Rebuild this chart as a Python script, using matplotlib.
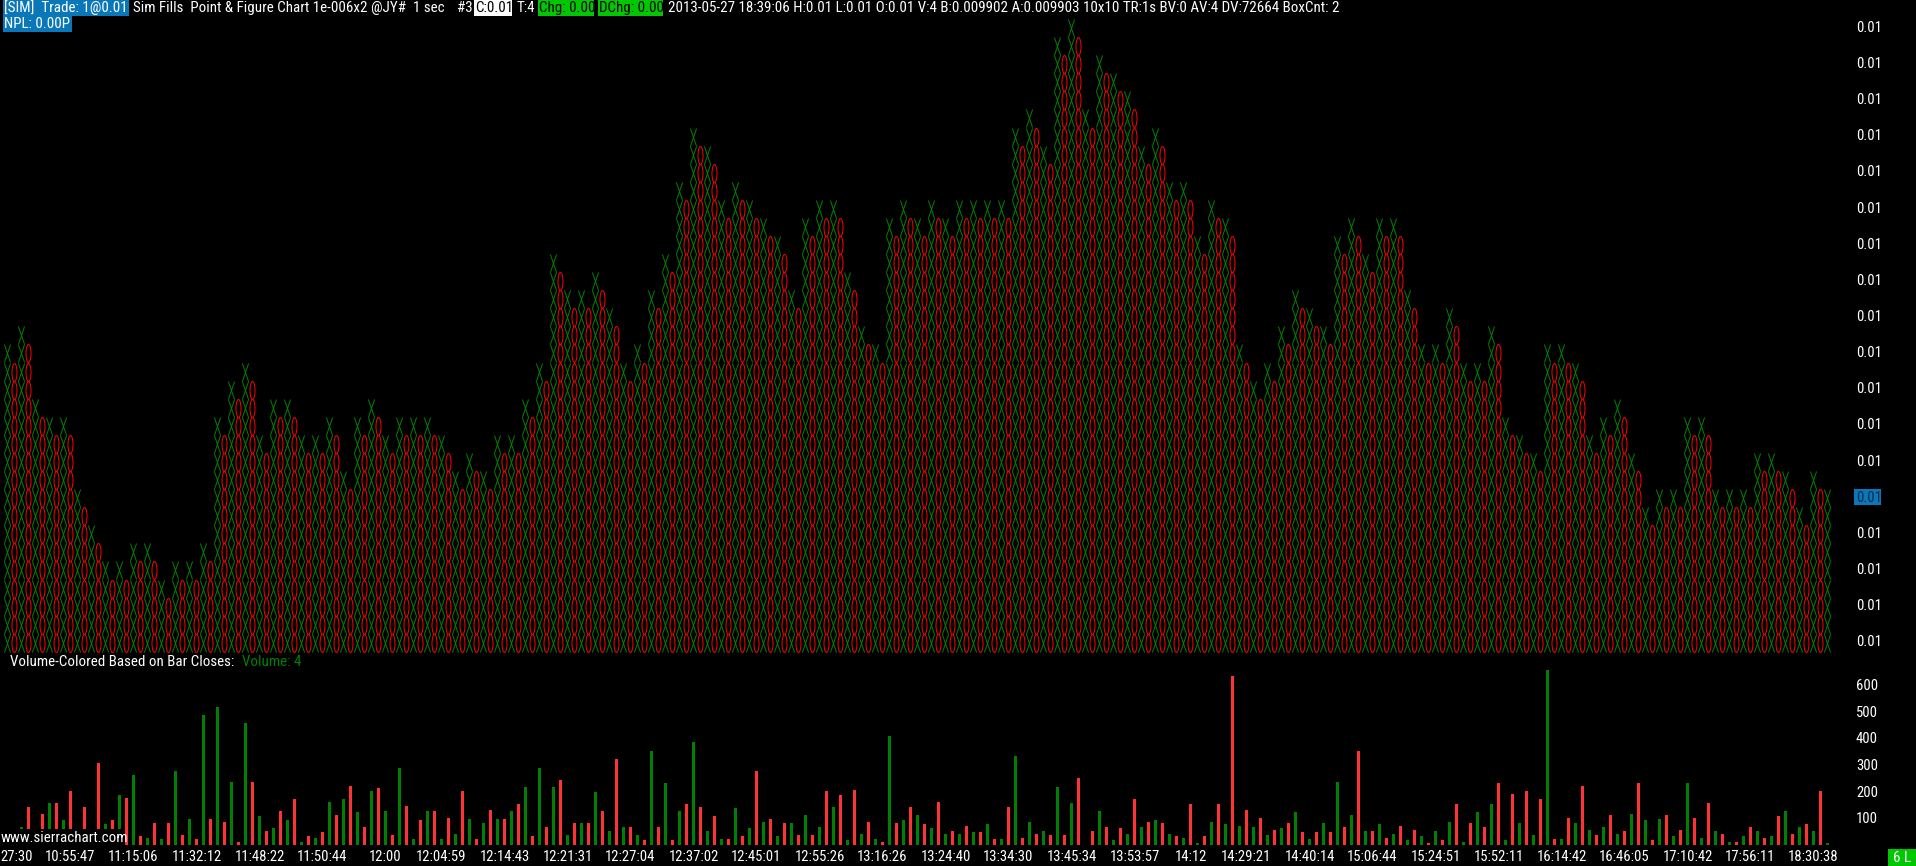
import matplotlib
matplotlib.use("Agg")
import matplotlib.pyplot as plt
from matplotlib.path import Path
from matplotlib.patches import Rectangle
from matplotlib.transforms import Affine2D
import numpy as np

# top row of each X column (columns 1, 3, 5, ... 261)
x_tops = [17,18,14,13,13,9,7,5,5,6,6,4,5,5,6,13,15,16,12,14,14,12,12,
          13,10,13,14,12,13,13,13,12,10,11,10,12,12,14,16,22,20,20,21,19,16,17,20,22,
          26,29,28,25,26,25,24,23,20,24,25,25,21,18,17,24,25,24,25,24,25,25,25,25,
          29,30,28,34,35,30,33,32,31,28,29,26,26,23,25,24,17,15,16,18,20,19,18,23,24,22,
          24,24,20,17,17,19,16,16,18,13,12,11,17,17,16,12,13,14,11,8,9,9,13,13,9,
          9,9,11,11,10,8,10,9]
# top row of each O column (columns 2, 4, 6, ... 260)
o_tops = [16,17,13,12,12,8,6,4,4,5,5,3,4,4,5,12,14,15,11,13,13,11,
          11,12,9,12,13,11,12,12,12,11,9,10,9,11,11,13,15,21,19,19,20,18,15,16,19,
          21,25,28,27,24,25,24,23,22,19,23,24,24,20,17,16,23,24,23,24,23,24,24,24,24,
          28,29,27,33,34,29,32,31,30,27,28,25,25,22,24,23,16,14,15,17,19,18,17,22,23,
          21,23,23,19,16,16,18,15,15,17,12,11,10,16,16,15,11,12,13,10,7,8,8,12,12,
          8,8,8,10,10,9,7,9]
# volume per column 1..261 (first, second and a few others sit behind the site label)
volumes = [20,30,64,139,40,116,157,157,90,199,30,142,20,307,75,90,184,176,259,30,
           26,79,22,79,274,34,97,22,487,94,517,86,236,11,454,236,105,49,60,124,
           90,172,11,30,26,45,161,112,169,221,120,67,199,210,124,34,285,146,22,90,
           124,127,19,101,41,199,94,22,82,131,94,94,127,150,214,30,285,64,217,240,
           34,82,79,82,195,127,49,319,64,67,37,15,352,67,229,15,124,150,386,139,
           52,105,19,22,135,30,60,274,86,97,30,79,79,34,112,37,67,199,142,184,
           15,206,41,86,22,11,405,79,90,139,109,75,60,161,41,49,41,71,45,45,
           75,19,22,142,330,26,86,41,52,34,214,37,157,251,0,52,124,67,15,60,
           41,169,64,86,90,79,41,30,26,150,7,30,86,150,75,630,71,131,67,101,
           34,56,60,79,120,45,19,45,82,45,236,64,109,349,49,49,75,26,41,71,
           15,56,30,7,52,15,86,150,11,79,120,64,150,232,15,191,82,202,34,169,
           656,19,22,101,79,221,56,37,67,109,41,52,116,232,90,15,97,109,30,56,
           232,101,26,157,49,41,11,11,30,64,49,26,30,105,127,41,64,75,49,199,4]
time_labels = ["27:30","10:55:47","11:15:06","11:32:12","11:48:22","11:50:44","12:00",
               "12:04:59","12:14:43","12:21:31","12:27:04","12:37:02","12:45:01","12:55:26",
               "13:16:26","13:24:40","13:34:30","13:45:34","13:53:57","14:12","14:29:21",
               "14:40:14","15:06:44","15:24:51","15:52:11","16:14:42","16:46:05","17:10:42",
               "17:56:11","18:30:38"]
time_cols = [2.25,10,19,28,37,46,55,63,72,81,90,99,108,117,126,135,144,153,162,170,178,
             187,196,205,214,223,232,241,250,259]
price_ticks = [0.6+2*n for n in range(18)]
price_labels = ["0.01"]*18
volume_ticks = [100,200,300,400,500,600]

W, H = 1916, 866
plt.rcParams["font.family"] = ["Roboto Condensed", "Liberation Sans", "DejaVu Sans"]
FS = 10.6
FS_HEAD = 10.8
GREEN, RED, BARRED = "#008000", "#FF0000", "#FF3333"
BLUE, BRIGHT = "#0A78B8", "#00C800"

fig = plt.figure(figsize=(W/100, H/100), dpi=100, facecolor="black")
PLOT_R = 1850
BOTTOM = 651.8
ROW = 18.08
PX_PER_VOL = 0.2667

ax = fig.add_axes([0, (H-BOTTOM)/H, PLOT_R/W, BOTTOM/H], facecolor="black")
vx = fig.add_axes([0, (H-844.5)/H, PLOT_R/W, 190/H], facecolor="black")

x_marker = Path([(-3.1,-9),(3.1,9),(-3.1,9),(3.1,-9)],
                [Path.MOVETO,Path.LINETO,Path.MOVETO,Path.LINETO])
o_marker = Path.unit_circle().transformed(Affine2D().scale(2.5, 9))
MS = 18*0.72

def stack(cols, tops):
    xs, ys = [], []
    for c, t in zip(cols, tops):
        for r in range(1, t+1):
            xs.append(c); ys.append(r-0.5)
    return xs, ys

x_cols = list(range(1, 262, 2))
o_cols = list(range(2, 261, 2))
xx, xy = stack(x_cols, x_tops)
ox, oy = stack(o_cols, o_tops)
ax.plot(xx, xy, ls="", marker=x_marker, ms=MS, mec=GREEN, mfc="none", mew=0.72, antialiased=False, zorder=2)
ax.plot(ox, oy, ls="", marker=o_marker, ms=MS, mec=RED, mfc="none", mew=0.72, antialiased=False, zorder=3)
ax.set_xlim(0, PLOT_R/7)
ax.set_ylim(0, BOTTOM/ROW)
ax.set_xticks([])
ax.yaxis.tick_right()
ax.set_yticks(price_ticks, price_labels)
ax.tick_params(axis="y", length=0, pad=4.3, labelsize=FS, labelcolor="white")
ax.get_yticklabels()[4].set_color("#002a4a")

bar_cols = list(range(1, 262))
bar_colors = [GREEN if c % 2 else BARRED for c in bar_cols]
vx.bar(bar_cols, volumes, width=3/7, color=bar_colors, antialiased=False, linewidth=0)
vx.set_xlim(-0.5/7, PLOT_R/7-0.5/7)
vx.set_ylim(0, 190/PX_PER_VOL)
vx.yaxis.tick_right()
vx.set_yticks(volume_ticks)
vx.set_xticks(time_cols, time_labels)
vx.tick_params(axis="y", length=0, pad=4.3, labelsize=FS, labelcolor="white")
vx.tick_params(axis="x", length=0, pad=4.0, labelsize=FS, labelcolor="white")
for a in (ax, vx):
    for s in a.spines.values():
        s.set_visible(False)

def box(x0, y0, x1, y1, color, z=5):
    fig.add_artist(Rectangle((x0/W, 1-y1/H), (x1-x0)/W, (y1-y0)/H, transform=fig.transFigure,
                             facecolor=color, edgecolor="none", antialiased=False, zorder=z))

def label(x, y, s, color="white", ha="left", z=6):
    fig.text(x/W, 1-y/H, s, color=color, ha=ha, va="center", fontsize=FS_HEAD, zorder=z)

box(3, 0, 129, 16, BLUE)
box(3, 16, 72, 32, BLUE)
box(474, 0, 512, 16, "white")
box(538, 0, 594, 16, BRIGHT)
box(598, 0, 663, 16, BRIGHT)
box(1854, 489, 1881, 505, BLUE, z=1)
box(1888, 849, 1916, 866, BRIGHT)
box(0, 829, 122, 845, "black", z=5)

label(4, 8, "[SIM]  Trade: 1@0.01")
label(4, 24, "NPL: 0.00P")
label(132.6, 8, "Sim Fills  Point & Figure Chart 1e-006x2 @JY#  1 sec")
label(457, 8, "#3")
label(475, 8, "C:0.01", color="black")
label(517, 8, "T:4")
label(539, 8, "Chg: 0.00", color="black")
label(599, 8, "DChg: 0.00", color="black")
label(668, 8, "2013-05-27 18:39:06 H:0.01 L:0.01 O:0.01 V:4 B:0.009902 A:0.009903 10x10 TR:1s BV:0 AV:4 DV:72664 BoxCnt: 2")
label(10, 662, "Volume-Colored Based on Bar Closes:")
label(241.6, 662, "Volume: 4", color=GREEN)
label(1, 838, "www.sierrachart.com")
label(1902, 858, "6 L", ha="center")

ax.set_zorder(2); vx.set_zorder(2)
ax.patch.set_alpha(0); vx.patch.set_alpha(0)
fig.savefig("out.png", dpi=100, facecolor="black")
